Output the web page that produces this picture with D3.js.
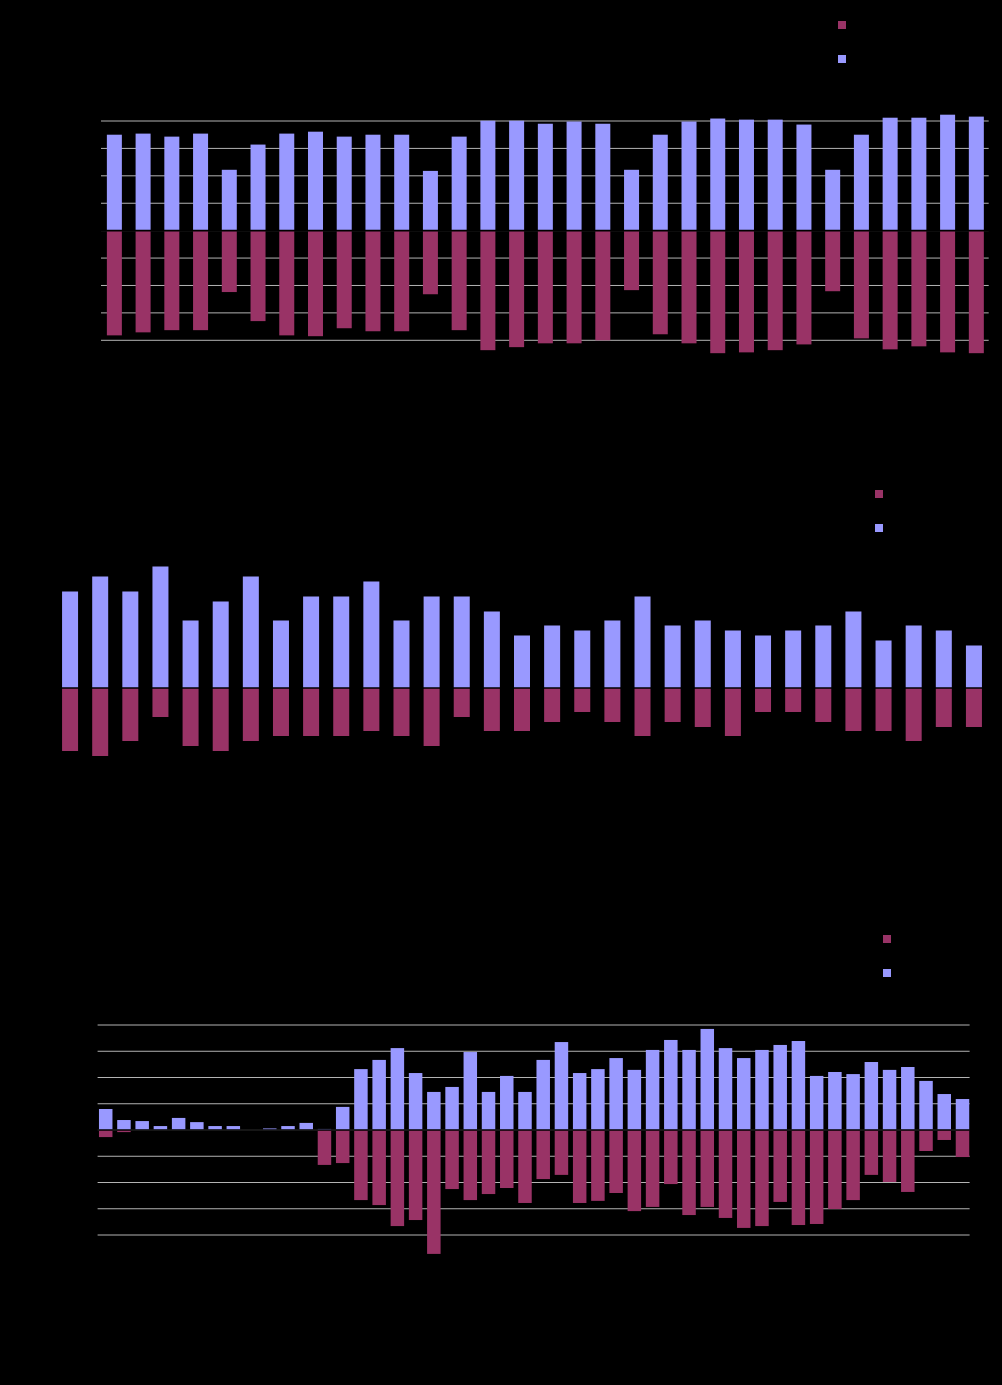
<!DOCTYPE html>
<html>
<head>
<meta charset="utf-8">
<script src="https://cdn.jsdelivr.net/npm/d3@7"></script>
<style>
  html, body { margin: 0; padding: 0; background: #000; }
  svg { display: block; }
  text { font-family: "Liberation Sans", Arial, sans-serif; font-size: 12px; fill: #000; }
</style>
</head>
<body>
<svg id="chart" width="1002" height="1385"></svg>
<script>
// chart 1 data
const cats1 = d3.range(1, 32).map(String);
const up1 = [3.50, 3.54, 3.43, 3.54, 2.22, 3.14, 3.54, 3.61, 3.43, 3.50, 3.50, 2.18, 3.43, 4.01, 4.01, 3.90,
             3.98, 3.90, 2.22, 3.50, 3.98, 4.09, 4.05, 4.05, 3.87, 2.22, 3.50, 4.12, 4.12, 4.23, 4.16];
const down1 = [3.82, 3.71, 3.63, 3.63, 2.24, 3.30, 3.82, 3.85, 3.56, 3.67, 3.67, 2.32, 3.63, 4.36, 4.25, 4.11,
               4.11, 4.00, 2.17, 3.78, 4.11, 4.47, 4.44, 4.36, 4.15, 2.21, 3.93, 4.33, 4.22, 4.44, 4.47];
const ticks1 = [-4, -3, -2, -1, 0, 1, 2, 3, 4];

// chart 2 data
const cats2 = d3.range(1, 32).map(String);
const up2 = [19.3, 22.3, 19.3, 24.3, 13.5, 17.3, 22.3, 13.5, 18.3, 18.3, 21.3, 13.5, 18.3, 18.3, 15.3, 10.5,
             12.5, 11.5, 13.5, 18.3, 12.5, 13.5, 11.5, 10.5, 11.5, 12.5, 15.3, 9.5, 12.5, 11.5, 8.5];
const down2 = [12.6, 13.6, 10.6, 5.8, 11.6, 12.6, 10.6, 9.6, 9.6, 9.6, 8.6, 9.6, 11.6, 5.8, 8.6, 8.6,
               6.8, 4.8, 6.8, 9.6, 6.8, 7.8, 9.6, 4.8, 4.8, 6.8, 8.6, 8.6, 10.6, 7.8, 7.8];

// chart 3 data
const cats3 = d3.range(1, 49).map(String);
const up3 = [0.80, 0.38, 0.34, 0.15, 0.46, 0.30, 0.15, 0.15, 0, 0.06, 0.15, 0.27, 0.04, 0.88, 2.32, 2.67,
             3.12, 2.17, 1.45, 1.64, 2.97, 1.45, 2.06, 1.45, 2.67, 3.35, 2.17, 2.32, 2.74, 2.29, 3.05, 3.43,
             3.05, 3.85, 3.12, 2.74, 3.05, 3.24, 3.39, 2.06, 2.21, 2.13, 2.59, 2.29, 2.40, 1.87, 1.37, 1.18];
const down3 = [0.27, 0.08, 0, 0, 0, 0, 0, 0, 0, 0, 0, 0, 1.33, 1.26, 2.67, 2.86,
               3.66, 3.43, 4.72, 2.25, 2.67, 2.44, 2.21, 2.78, 1.87, 1.71, 2.78, 2.70, 2.40, 3.09, 2.93, 2.06,
               3.24, 2.93, 3.35, 3.73, 3.66, 2.74, 3.62, 3.58, 3.01, 2.67, 1.71, 1.98, 2.36, 0.80, 0.38, 1.03];
const ticks3 = [-4, -3, -2, -1, 0, 1, 2, 3, 4];

const legendNames = ["Down", "Up"];
const colDown = "#993366";
const colUp = "#9999ff";

const svg = d3.select("#chart");
svg.append("rect").attr("width", 1002).attr("height", 1385).attr("fill", "#000");

function drawChart(cfg) {
  const g = svg.append("g");
  const x = d3.scaleBand()
    .domain(cfg.cats)
    .range([cfg.x0, cfg.x1])
    .paddingInner(cfg.pad)
    .paddingOuter(cfg.pad / 2);
  const y = d3.scaleLinear().domain(cfg.domain).range([cfg.yBottom, cfg.yTop]);

  // grid
  if (cfg.ticks) {
    g.append("g")
      .selectAll("line")
      .data(cfg.ticks)
      .join("line")
      .attr("x1", cfg.x0 + 1).attr("x2", cfg.x1 - 2)
      .attr("y1", d => y(d)).attr("y2", d => y(d))
      .attr("stroke", "#b3b3b3")
      .attr("stroke-width", 1);
    // tick labels (black on black, like the original)
    g.append("g")
      .selectAll("text")
      .data(cfg.ticks)
      .join("text")
      .attr("x", cfg.x0 - 6)
      .attr("y", d => y(d) + 4)
      .attr("text-anchor", "end")
      .text(d => d);
  }

  // up bars
  g.append("g")
    .selectAll("rect")
    .data(cfg.up)
    .join("rect")
    .attr("x", (d, i) => x(cfg.cats[i]))
    .attr("width", x.bandwidth())
    .attr("y", d => y(d))
    .attr("height", d => y(0) - y(d))
    .attr("fill", colUp);

  // down bars
  g.append("g")
    .selectAll("rect")
    .data(cfg.down)
    .join("rect")
    .attr("x", (d, i) => x(cfg.cats[i]))
    .attr("width", x.bandwidth())
    .attr("y", y(0))
    .attr("height", d => y(-d) - y(0))
    .attr("fill", colDown);

  // zero axis line
  g.append("line")
    .attr("x1", cfg.x0).attr("x2", cfg.x1)
    .attr("y1", y(0)).attr("y2", y(0))
    .attr("stroke", "#000")
    .attr("stroke-width", 1.6);

  // legend
  const lg = g.append("g").attr("transform", `translate(${cfg.legX},${cfg.legY})`);
  [colDown, colUp].forEach((c, i) => {
    lg.append("rect").attr("x", 0).attr("y", i * 34).attr("width", 8).attr("height", 8).attr("fill", c);
    lg.append("text").attr("x", 14).attr("y", i * 34 + 8).text(legendNames[i]);
  });
}

drawChart({
  cats: cats1, up: up1, down: down1, ticks: ticks1,
  x0: 100, x1: 990.7, pad: 0.478,
  domain: [-4, 4], yBottom: 340.3, yTop: 121,
  legX: 838, legY: 21
});

drawChart({
  cats: cats2, up: up2, down: down2, ticks: null,
  x0: 55, x1: 989, pad: 0.469,
  domain: [-14, 25], yBottom: 758, yTop: 563,
  legX: 875, legY: 490
});

drawChart({
  cats: cats3, up: up3, down: down3, ticks: ticks3,
  x0: 96.6, x1: 971.6, pad: 0.26,
  domain: [-4, 4], yBottom: 1235, yTop: 1025,
  legX: 883, legY: 935
});
</script>
</body>
</html>
